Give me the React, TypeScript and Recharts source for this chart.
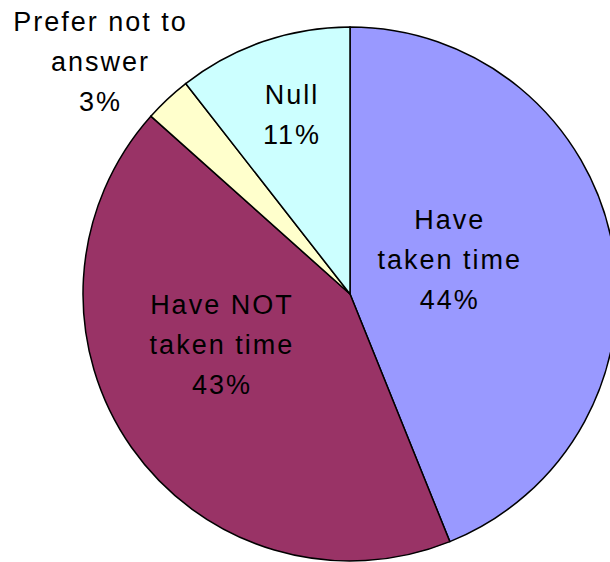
import React from "react";
import { PieChart, Pie, Cell } from "recharts";

const categories = ["Have taken time", "Have NOT taken time", "Prefer not to answer", "Null"];
const shares = [43.9, 42.7, 2.85, 10.55];
const labelLines = [
  ["Have", "taken time"],
  ["Have NOT", "taken time"],
  ["Prefer not to", "answer"],
  ["Null"],
];
const colors = ["#9999FF", "#993366", "#FFFFCC", "#CCFFFF"];

// label placement: radius as fraction of outer radius, plus an angle nudge (deg)
const labelRadius = [0.395, 0.516, 1.277, 0.704];
const labelNudge = [7.8, -13.5, 3.9, -1];

const data = categories.map((name, i) => ({ name, value: shares[i] }));

const RAD = Math.PI / 180;

function renderLabel(props: any) {
  const { cx, cy, midAngle, outerRadius, percent, index } = props;
  const r = outerRadius * labelRadius[index];
  const a = (midAngle + labelNudge[index]) * RAD;
  const x = cx + r * Math.cos(-a);
  const y = cy + r * Math.sin(-a);
  const lines = [...labelLines[index], `${Math.round(percent * 100)}%`];
  const step = 40;
  const top = y - ((lines.length - 1) * step) / 2;
  return (
    <text
      x={x}
      y={top}
      fill="#000"
      textAnchor="middle"
      dominantBaseline="central"
      style={{ fontFamily: "'Liberation Sans', Arial, sans-serif", fontSize: 27, letterSpacing: 2 }}
    >
      {lines.map((t, i) => (
        <tspan key={i} x={x} y={top + i * step}>
          {t}
        </tspan>
      ))}
    </text>
  );
}

export default function App() {
  return (
    <div style={{ position: "absolute", left: 0, top: 0, width: 610, height: 562, background: "#fff" }}>
      <PieChart width={610} height={562} margin={{ top: 0, right: 0, bottom: 0, left: 0 }}>
        <Pie
          data={data}
          dataKey="value"
          nameKey="name"
          cx={350}
          cy={294}
          outerRadius={267}
          startAngle={90}
          endAngle={-270}
          stroke="#000"
          strokeWidth={1.5}
          label={renderLabel}
          labelLine={false}
          isAnimationActive={false}
        >
          {data.map((d, i) => (
            <Cell key={d.name} fill={colors[i]} />
          ))}
        </Pie>
      </PieChart>
    </div>
  );
}
